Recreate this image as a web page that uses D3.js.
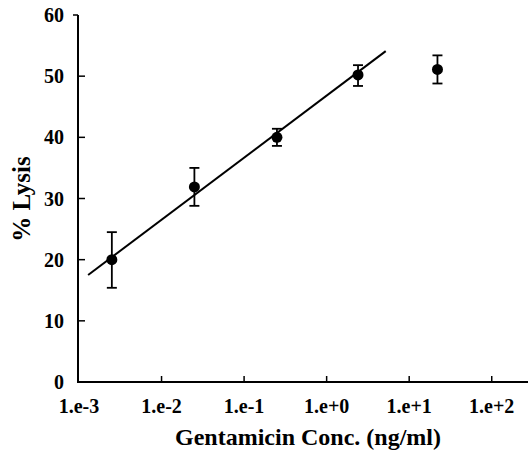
<!DOCTYPE html>
<html><head><meta charset="utf-8">
<script src="https://cdn.jsdelivr.net/npm/d3@7"></script>
<style>body{margin:0;background:#fff}svg{display:block}</style>
</head><body>
<svg id="c" width="528" height="453"></svg>
<script>
const conc = [0.0025, 0.025, 0.25, 2.4, 22];
const lysis = [20.0, 31.9, 40.0, 50.2, 51.1];
const errUp = [24.5, 35.0, 41.4, 51.8, 53.4];
const errDown = [15.4, 28.8, 38.6, 48.4, 48.8];
const fitConc = [0.00129, 5.2];
const fitLysis = [17.5, 54.1];
const xTicks = [1e-3, 1e-2, 1e-1, 1e0, 1e1, 1e2];
const xTickLabels = ["1.e-3", "1.e-2", "1.e-1", "1.e+0", "1.e+1", "1.e+2"];
const yTicks = [0, 10, 20, 30, 40, 50, 60];

const svg = d3.select("#c");
const font = "'Liberation Serif', 'Times New Roman', serif";
const x = d3.scaleLog().domain([1e-3, 275]).range([79, 528]);
const y = d3.scaleLinear().domain([0, 60]).range([382, 15]);

// axes lines
svg.append("line").attr("x1", 78).attr("x2", 78).attr("y1", 15).attr("y2", 383)
  .attr("stroke", "#000").attr("stroke-width", 2);
svg.append("line").attr("x1", 77).attr("x2", 528).attr("y1", 382).attr("y2", 382)
  .attr("stroke", "#000").attr("stroke-width", 2);
svg.append("line").attr("x1", 73).attr("x2", 78).attr("y1", 15).attr("y2", 15)
  .attr("stroke", "#000").attr("stroke-width", 1.5);

// y ticks
const gy = svg.append("g");
gy.selectAll("line").data(yTicks.filter(d => d > 0 && d < 60)).join("line")
  .attr("x1", 78).attr("x2", 85).attr("y1", d => y(d)).attr("y2", d => y(d))
  .attr("stroke", "#000").attr("stroke-width", 1.5);
gy.selectAll("text").data(yTicks).join("text")
  .attr("x", 64).attr("y", d => y(d)).attr("dy", "0.35em")
  .attr("text-anchor", "end").attr("font-family", font).attr("font-weight", "bold")
  .attr("font-size", 20).text(d => d);

// x ticks
const gx = svg.append("g");
gx.selectAll("line").data(xTicks.slice(1)).join("line")
  .attr("x1", d => x(d)).attr("x2", d => x(d)).attr("y1", 382).attr("y2", 376)
  .attr("stroke", "#000").attr("stroke-width", 1.5);
gx.selectAll("text").data(xTicks).join("text")
  .attr("x", d => x(d)).attr("y", 413)
  .attr("text-anchor", "middle").attr("font-family", font).attr("font-weight", "bold")
  .attr("font-size", 20).text((d, i) => xTickLabels[i]);

// titles
svg.append("text").attr("transform", "translate(30,199) rotate(-90)")
  .attr("text-anchor", "middle").attr("font-family", font).attr("font-weight", "bold")
  .attr("font-size", 25).text("% Lysis");
svg.append("text").attr("x", 308).attr("y", 445)
  .attr("text-anchor", "middle").attr("font-family", font).attr("font-weight", "bold")
  .attr("font-size", 24).text("Gentamicin Conc. (ng/ml)");

// fit line
svg.append("path")
  .datum(fitConc.map((c, i) => [c, fitLysis[i]]))
  .attr("d", d3.line().x(d => x(d[0])).y(d => y(d[1])))
  .attr("fill", "none").attr("stroke", "#000").attr("stroke-width", 2);

// error bars
const pts = conc.map((c, i) => ({c, v: lysis[i], up: errUp[i], dn: errDown[i]}));
const ge = svg.append("g").attr("stroke", "#000").attr("stroke-width", 1.8);
ge.selectAll("line.v").data(pts).join("line").attr("class", "v")
  .attr("x1", d => x(d.c)).attr("x2", d => x(d.c)).attr("y1", d => y(d.up)).attr("y2", d => y(d.dn));
ge.selectAll("line.t").data(pts).join("line").attr("class", "t")
  .attr("x1", d => x(d.c) - 5).attr("x2", d => x(d.c) + 5).attr("y1", d => y(d.up)).attr("y2", d => y(d.up));
ge.selectAll("line.b").data(pts).join("line").attr("class", "b")
  .attr("x1", d => x(d.c) - 5).attr("x2", d => x(d.c) + 5).attr("y1", d => y(d.dn)).attr("y2", d => y(d.dn));

svg.append("g").selectAll("circle").data(pts).join("circle")
  .attr("cx", d => x(d.c)).attr("cy", d => y(d.v)).attr("r", 5.5).attr("fill", "#000");
</script>
</body></html>
